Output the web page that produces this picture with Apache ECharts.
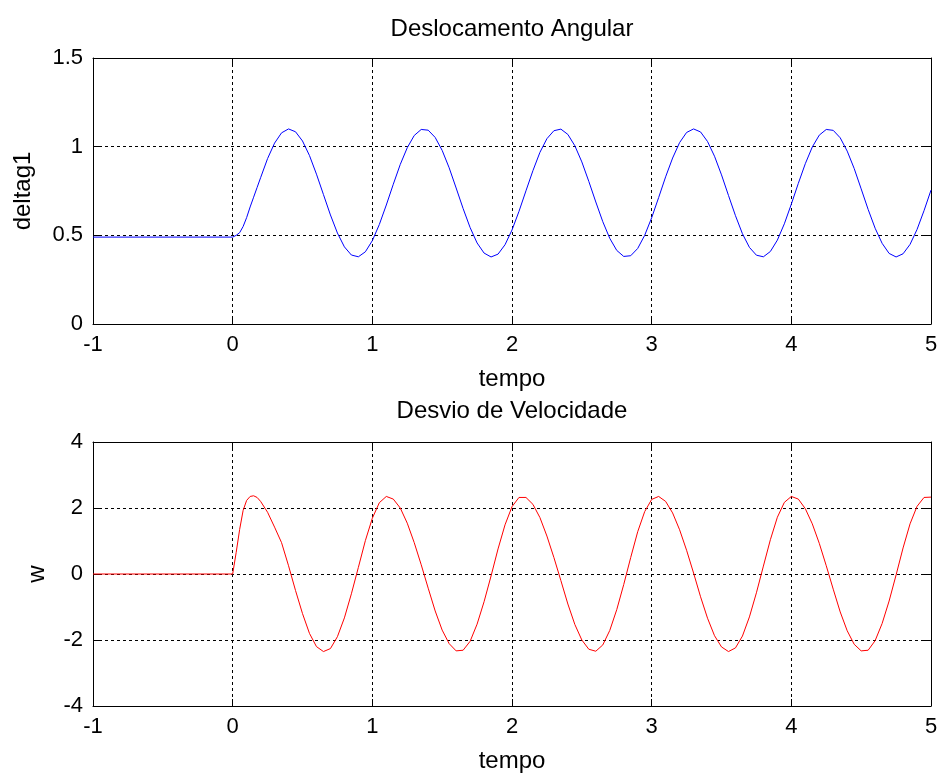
<!DOCTYPE html>
<html>
<head>
<meta charset="utf-8">
<script src="https://cdn.jsdelivr.net/npm/echarts@6/dist/echarts.min.js"></script>
<style>
  html, body { margin: 0; padding: 0; background: #fff; }
  #chart { width: 941px; height: 774px; }
</style>
</head>
<body>
<div id="chart"></div>
<script>
// tempo (s) - shared by both plots
const tempo = [-1, 0, 0.025, 0.05, 0.075, 0.1, 0.125, 0.15, 0.175, 0.2,
  0.25, 0.3, 0.35, 0.4, 0.45, 0.5, 0.55, 0.6, 0.65, 0.7, 0.75, 0.8, 0.85, 0.9, 0.95, 1.0,
  1.05, 1.1, 1.15, 1.2, 1.25, 1.3, 1.35, 1.4, 1.45, 1.5, 1.55, 1.6, 1.65, 1.7, 1.75, 1.8, 1.85, 1.9, 1.95, 2.0,
  2.05, 2.1, 2.15, 2.2, 2.25, 2.3, 2.35, 2.4, 2.45, 2.5, 2.55, 2.6, 2.65, 2.7, 2.75, 2.8, 2.85, 2.9, 2.95, 3.0,
  3.05, 3.1, 3.15, 3.2, 3.25, 3.3, 3.35, 3.4, 3.45, 3.5, 3.55, 3.6, 3.65, 3.7, 3.75, 3.8, 3.85, 3.9, 3.95, 4.0,
  4.05, 4.1, 4.15, 4.2, 4.25, 4.3, 4.35, 4.4, 4.45, 4.5, 4.55, 4.6, 4.65, 4.7, 4.75, 4.8, 4.85, 4.9, 4.95, 5.0];

// deslocamento angular
const deltag1 = [0.49, 0.49, 0.50, 0.515, 0.55, 0.60, 0.66, 0.715, 0.77, 0.825,
  0.933, 1.020, 1.078, 1.100, 1.084, 1.032, 0.950, 0.845, 0.730, 0.615, 0.513, 0.435, 0.389, 0.379, 0.407, 0.470,
  0.561, 0.671, 0.788, 0.900, 0.994, 1.063, 1.097, 1.093, 1.052, 0.979, 0.881, 0.767, 0.651, 0.544, 0.457, 0.400, 0.378, 0.394, 0.447, 0.530,
  0.635, 0.751, 0.865, 0.968, 1.045, 1.090, 1.099, 1.069, 1.005, 0.914, 0.804, 0.688, 0.577, 0.483, 0.415, 0.381, 0.385, 0.426, 0.500, 0.599,
  0.713, 0.830, 0.936, 1.023, 1.080, 1.100, 1.083, 1.029, 0.946, 0.841, 0.725, 0.611, 0.509, 0.432, 0.388, 0.379, 0.409, 0.473, 0.565, 0.676,
  0.793, 0.904, 0.998, 1.065, 1.097, 1.092, 1.050, 0.975, 0.877, 0.762, 0.646, 0.540, 0.455, 0.398, 0.378, 0.396, 0.449, 0.533, 0.639, 0.755];

// desvio de velocidade
const w = [0, 0, 0.65, 1.35, 1.93, 2.23, 2.35, 2.37, 2.32, 2.20,
  1.87, 1.42, 0.95, 0.25, -0.50, -1.20, -1.80, -2.20, -2.35, -2.26, -1.90, -1.33, -0.60, 0.20, 1.01, 1.69,
  2.16, 2.35, 2.27, 2.00, 1.54, 0.95, 0.28, -0.43, -1.12, -1.70, -2.11, -2.33, -2.31, -2.04, -1.52, -0.84, -0.06, 0.76, 1.49, 2.04,
  2.32, 2.32, 2.11, 1.71, 1.15, 0.50, -0.20, -0.91, -1.53, -2.00, -2.28, -2.34, -2.15, -1.71, -1.08, -0.32, 0.50, 1.28, 1.89, 2.26,
  2.35, 2.20, 1.85, 1.34, 0.72, 0.03, -0.69, -1.34, -1.87, -2.21, -2.35, -2.24, -1.88, -1.30, -0.57, 0.24, 1.04, 1.72, 2.17, 2.35,
  2.27, 1.98, 1.52, 0.93, 0.25, -0.46, -1.15, -1.72, -2.13, -2.33, -2.31, -2.02, -1.50, -0.82, -0.03, 0.79, 1.52, 2.05, 2.32, 2.33];

// axis ranges [min, max, interval]
const xRange = [-1, 5, 1];
const deltaRange = [0, 1.5, 0.5];
const wRange = [-4, 4, 2];

const FONT = 'Liberation Sans';
const FS_TICK = 22;
const FS_TEXT = 24;

const chart = echarts.init(document.getElementById('chart'));

function mainX(gridIndex) {
  return {
    gridIndex: gridIndex,
    type: 'value',
    min: xRange[0], max: xRange[1], interval: xRange[2],
    name: 'tempo',
    nameLocation: 'middle',
    nameGap: 43,
    nameTextStyle: { color: '#000', fontFamily: FONT, fontSize: FS_TEXT },
    axisLine: { show: true, onZero: false, lineStyle: { color: '#000', width: 1 } },
    axisTick: { show: true, inside: true, length: 7, lineStyle: { color: '#000' } },
    axisLabel: { color: '#000', fontFamily: FONT, fontSize: FS_TICK, margin: 10 },
    splitLine: { show: true, lineStyle: { color: '#000', type: [3, 3], width: 1 } }
  };
}
function boxX(gridIndex) {
  return {
    gridIndex: gridIndex, type: 'value', position: 'top',
    min: xRange[0], max: xRange[1], interval: xRange[2],
    axisLine: { show: true, onZero: false, lineStyle: { color: '#000' } },
    axisTick: { show: true, inside: true, length: 7, lineStyle: { color: '#000' } },
    axisLabel: { show: false },
    splitLine: { show: false }
  };
}
function mainY(gridIndex, range, name, gap) {
  return {
    gridIndex: gridIndex,
    type: 'value',
    min: range[0], max: range[1], interval: range[2],
    name: name,
    nameLocation: 'middle',
    nameGap: gap,
    nameRotate: 90,
    nameTextStyle: { color: '#000', fontFamily: FONT, fontSize: FS_TEXT, verticalAlign: 'middle' },
    axisLine: { show: true, onZero: false, lineStyle: { color: '#000', width: 1 } },
    axisTick: { show: true, inside: true, length: 7, lineStyle: { color: '#000' } },
    axisLabel: { color: '#000', fontFamily: FONT, fontSize: FS_TICK, margin: 10 },
    splitLine: { show: true, lineStyle: { color: '#000', type: [3, 3], width: 1 } }
  };
}
function boxY(gridIndex, range) {
  return {
    gridIndex: gridIndex, type: 'value', position: 'right',
    min: range[0], max: range[1], interval: range[2],
    axisLine: { show: true, onZero: false, lineStyle: { color: '#000' } },
    axisTick: { show: true, inside: true, length: 7, lineStyle: { color: '#000' } },
    axisLabel: { show: false },
    splitLine: { show: false }
  };
}

chart.setOption({
  animation: false,
  backgroundColor: '#fff',
  title: [{
    text: 'Deslocamento Angular',
    left: 512, top: 17, textAlign: 'center', padding: 0,
    textStyle: { color: '#000', fontFamily: FONT, fontSize: FS_TEXT, fontWeight: 'normal' }
  }, {
    text: 'Desvio de Velocidade',
    left: 512, top: 399, textAlign: 'center', padding: 0,
    textStyle: { color: '#000', fontFamily: FONT, fontSize: FS_TEXT, fontWeight: 'normal' }
  }],
  grid: [
    { left: 93, top: 58, width: 838, height: 266 },
    { left: 93, top: 442, width: 838, height: 265 }
  ],
  xAxis: [mainX(0), boxX(0), mainX(1), boxX(1)],
  yAxis: [
    mainY(0, deltaRange, 'deltag1', 70), boxY(0, deltaRange),
    mainY(1, wRange, 'w', 56), boxY(1, wRange)
  ],
  series: [{
    type: 'line',
    xAxisIndex: 0, yAxisIndex: 0,
    showSymbol: false,
    lineStyle: { color: '#0000ff', width: 1 },
    itemStyle: { color: '#0000ff' },
    data: tempo.map((t, i) => [t, deltag1[i]])
  }, {
    type: 'line',
    xAxisIndex: 2, yAxisIndex: 2,
    showSymbol: false,
    lineStyle: { color: '#ff0000', width: 1 },
    itemStyle: { color: '#ff0000' },
    data: tempo.map((t, i) => [t, w[i]])
  }]
});
</script>
</body>
</html>
